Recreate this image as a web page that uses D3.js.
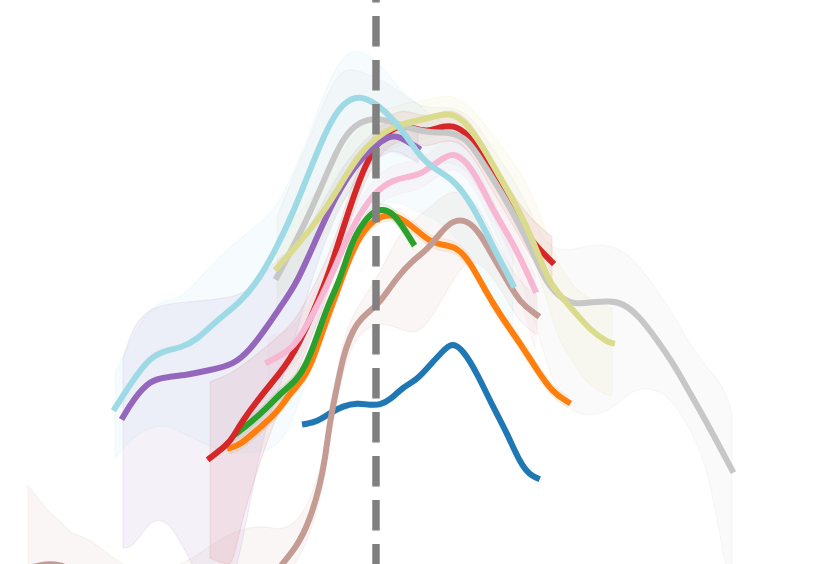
<!DOCTYPE html>
<html><head><meta charset="utf-8">
<script src="https://cdn.jsdelivr.net/npm/d3@7"></script>
<style>html,body{margin:0;padding:0;background:#fff;overflow:hidden}</style>
</head><body><svg id="chart" width="830" height="564"></svg>
<script>
// Each point: [day relative to event, mean value, lower CI offset, upper CI offset]
const seriesA = [[-7.1,14.0,0.3,0.3],[-5.9,14.2,0.3,0.3],[-4.6,15.1,0.3,0.3],[-3.3,15.8,0.3,0.3],[-1.9,16.1,0.3,0.3],[-0.6,15.9,0.3,0.3],[0.4,15.9,0.3,0.3],[1.4,16.4,0.3,0.3],[2.7,17.7,0.3,0.3],[4.1,18.4,0.3,0.3],[5.4,19.9,0.3,0.3],[6.6,21.2,0.3,0.3],[7.6,22.2,0.3,0.3],[8.7,21.4,0.3,0.3],[10.1,19.1,0.3,0.3],[11.7,15.7,0.3,0.3],[13.1,13.1,0.3,0.3],[14.4,10.1,0.3,0.3],[15.4,8.9,0.3,0.3],[16.1,8.6,0.3,0.3]];
const seriesB = [[-14.6,11.6,0.6,0.6],[-13.6,11.9,0.6,0.6],[-11.9,13.4,0.6,0.6],[-9.9,15.1,0.6,0.6],[-8.6,17.1,0.6,0.6],[-7.3,18.4,0.6,0.6],[-6.3,20.4,0.6,0.6],[-5.3,23.4,0.6,0.6],[-4.3,26.1,0.6,0.6],[-3.3,28.9,0.6,0.6],[-1.9,32.4,0.6,0.6],[-0.6,34.1,0.6,0.6],[0.7,34.9,0.6,0.6],[2.1,34.9,0.6,0.6],[3.7,33.7,0.6,0.6],[5.4,32.2,0.6,0.6],[6.7,31.9,0.6,0.6],[8.1,31.7,0.6,0.6],[9.4,30.2,0.6,0.6],[10.9,27.4,0.6,0.6],[12.4,24.9,0.6,0.6],[14.4,22.1,0.6,0.6],[16.1,19.4,0.6,0.6],[17.7,17.1,0.6,0.6],[19.2,16.2,0.6,0.6]];
const seriesC = [[-13.9,13.1,0.6,0.6],[-12.6,14.1,0.6,0.6],[-10.9,15.6,0.6,0.6],[-9.3,17.3,0.6,0.6],[-7.9,18.4,0.6,0.6],[-6.9,20.1,0.6,0.6],[-5.9,22.7,0.6,0.6],[-4.9,25.7,0.6,0.6],[-3.6,28.4,0.6,0.6],[-2.6,31.7,0.6,0.6],[-1.6,33.7,0.6,0.6],[-0.3,35.3,0.6,0.6],[0.7,35.5,0.6,0.6],[1.7,35.1,0.6,0.6],[2.7,33.7,0.6,0.6],[3.7,32.1,0.6,0.6]];
const seriesD = [[-16.6,10.6,10,7.6],[-14.9,11.9,12,7],[-14.3,12.7,12.7,6.5],[-13.3,14.4,9.5,5.5],[-11.6,16.7,6.5,4.5],[-9.6,19.1,3.2,3.8],[-7.9,21.4,2.5,3],[-4.9,28.4,1.8,2],[-3.9,31.7,1.5,1.5],[-2.6,35.7,1.5,1.5],[-1.3,39.4,1.5,1.5],[0.1,42.1,1.5,1.5],[1.4,43.4,1.5,1.5],[2.7,43.9,1.5,1.5],[3.7,43.6,1.5,1.5],[5.1,43.2,1.5,1.5],[6.4,43.7,1.5,1.5],[7.7,43.9,1.5,1.5],[9.1,43.1,1.5,1.5],[10.4,41.1,1.5,1.5],[11.7,38.7,1.5,1.5],[13.1,36.4,1.5,1.5],[14.4,34.1,1.5,1.8],[15.7,32.1,1.8,2.2],[17.6,30.2,2,2.5]];
const seriesE = [[-25.3,14.7,13.1,5.8],[-24.3,16.4,14.8,7.5],[-22.6,18.4,14,7.1],[-20.9,18.7,14.1,7.3],[-18.9,18.9,17.8,7.3],[-16.6,19.4,23,7],[-14.3,19.9,23,6.8],[-12.6,21.4,15,6],[-10.9,23.7,9.3,5.7],[-9.3,26.1,7.7,4.8],[-7.9,28.1,4.7,3.8],[-5.9,32.7,2.5,2.2],[-3.9,37.1,1.8,1.8],[-1.9,40.1,1.5,1.5],[-0.3,41.7,1.5,1.5],[1.4,42.9,1.5,1.5],[2.4,42.7,1.5,1.5],[3.4,42.1,1.5,1.5],[4.2,41.6,1.5,1.5]];
const seriesF = [[-34.8,-0.4,3,8.2],[-33.6,-0.1,3,6.5],[-32.6,0.0,3,5],[-31.6,-0.1,3,4.5],[-30.6,-0.5,3,3.5],[-28.6,-2.1,3,4.8],[-24.6,-4.6,3,3.5],[-19.6,-6.1,3,5.5],[-14.6,-5.1,3,8.5],[-11.1,-2.6,3,6.5],[-9.6,-0.2,2,3.5],[-7.9,1.7,1.5,2.5],[-6.6,4.4,1.5,2],[-5.6,7.9,1.5,1.5],[-5.1,10.4,1.5,1.5],[-4.6,14.4,1.5,1.5],[-3.9,17.7,1.5,1.5],[-3.3,20.7,1.5,1.5],[-2.6,22.7,1.5,1.5],[-1.9,24.1,1.5,1.5],[-0.9,25.1,1.5,2],[0.4,26.1,2,3],[2.1,28.7,5,4],[3.7,30.4,7.5,4],[5.1,31.4,7.5,4],[6.4,33.1,7,3.5],[7.7,34.4,6,3],[9.1,34.4,4,2.5],[10.4,33.1,3,2.5],[11.7,30.7,2,2],[13.1,28.4,2,2],[14.4,26.1,2,2],[16.1,24.9,2,2]];
const seriesG = [[-10.8,20.2,2.5,2.5],[-8.9,21.2,2,2],[-7.6,22.4,2,2],[-4.6,28.4,1.5,1.5],[-3.3,31.7,1.5,1.5],[-1.6,35.1,1.5,1.5],[0.1,37.4,1.5,1.5],[1.7,38.4,1.5,1.5],[3.1,38.7,1.5,1.5],[4.4,38.9,1.5,1.5],[6.4,40.4,1.5,1.5],[7.7,41.2,1.5,1.5],[9.1,40.2,1.5,1.5],[10.4,38.1,1.5,1.5],[11.7,35.4,1.8,1.5],[13.1,33.1,2.5,1.5],[14.4,30.7,4,1.5],[15.9,27.4,6,1.5]];
const seriesH = [[-9.9,28.7,4,6],[-8.3,31.7,4,7],[-6.6,35.1,4,7.5],[-4.9,39.1,3.5,8],[-3.3,42.7,3,7],[-1.6,44.3,3,5],[0.1,44.6,3,4],[1.7,44.2,3,3.5],[3.1,43.7,3,3],[4.1,43.4,3,2.5],[5.7,43.1,3,2.5],[7.4,43.2,3,2.5],[9.1,42.6,3,2.5],[10.7,40.1,3.5,3],[12.4,37.4,4,3],[14.1,34.4,5,3.5],[15.7,31.2,6,3.5],[16.9,28.4,8,3.8],[18.1,26.9,9.5,4.5],[19.7,25.9,11,5.5],[21.7,26.2,11.3,5.8],[23.4,26.3,11,5.5],[24.7,26.1,9.5,5.3],[26.4,24.7,7,5],[28.1,22.4,5,5],[29.7,20.1,3.7,5],[31.4,17.1,3.7,4.8],[33.1,14.1,4,5.5],[34.7,11.1,10,6.8],[35.6,9.4,13,5.8]];
const seriesI = [[-9.9,29.6,3,3],[-8.3,31.4,3,3],[-6.6,33.4,3,3],[-4.9,35.7,2.5,3],[-3.3,38.4,2,3],[-1.6,41.1,2,2.5],[0.1,42.7,2,2.5],[1.7,43.7,2,2],[3.4,44.2,2,2],[5.7,44.7,2,1.8],[7.4,45.2,2,1.8],[9.1,44.1,2,2],[10.7,41.7,2,2.5],[12.4,38.7,2,3.3],[14.1,35.7,2,4],[15.7,32.4,2,4.5],[17.1,28.6,2,4.5],[18.1,27.2,4.5,3],[19.7,25.4,5.3,2.3],[21.4,23.4,5.7,3],[23.1,22.2,5.3,3.5],[23.6,22.1,5.3,3.5]];
const seriesJ = [[-26.1,15.6,5,3.5],[-24.3,18.4,5.7,4.5],[-22.6,20.7,7,5],[-20.9,21.4,7.5,5],[-19.6,21.6,8.4,5],[-17.9,22.4,10,5.8],[-15.9,24.4,13,6.2],[-13.6,26.1,15,6.4],[-11.6,28.6,17.5,5.5],[-9.9,31.7,20,4],[-8.3,35.1,21,4],[-6.6,39.4,20,3.7],[-4.9,43.6,15,4.3],[-3.3,46.2,13.5,4.8],[-1.6,46.9,11.8,4.6],[0.1,46.0,9.8,4.3],[1.7,44.5,8.3,3.8],[3.1,42.7,6.8,4],[4.1,41.2,6,5],[5.1,40.1,5.2,5],[6.4,39.2,5,5.2],[7.7,38.4,5.5,5],[9.1,36.7,5.5,4.7],[10.4,34.4,5,4.7],[11.7,31.7,4.5,4.7],[13.1,29.1,4.2,4],[13.7,27.9,4.2,3.5]];
const eventDays = [0];

const seriesList = [seriesA, seriesB, seriesC, seriesD, seriesE, seriesF, seriesG, seriesH, seriesI, seriesJ];
const seriesColors = ["#1f77b4","#ff7f0e","#2ca02c","#d62728","#9467bd","#c49c94","#f7b6d2","#c7c7c7","#dbdb8d","#9edae5"];

const W = 830, H = 564;
const x = d3.scaleLinear().domain([-37.6, 45.4]).range([0, W]);
const y = d3.scaleLinear().domain([0, 56.4]).range([H, 0]);
const svg = d3.select("#chart");

const area = d3.area()
  .x(d => x(d[0])).y0(d => y(d[1] - d[2])).y1(d => y(d[1] + d[3]))
  .curve(d3.curveBasis);
const line = d3.line().x(d => x(d[0])).y(d => y(d[1])).curve(d3.curveBasis);

svg.append("g").selectAll("path").data(seriesList).join("path")
  .attr("d", area)
  .attr("fill", (d, i) => seriesColors[i]).attr("fill-opacity", 0.09)
  .attr("stroke", (d, i) => seriesColors[i]).attr("stroke-opacity", 0.1).attr("stroke-width", 1.2);

svg.append("g").selectAll("path").data(seriesList).join("path")
  .attr("d", line)
  .attr("fill", "none")
  .attr("stroke", (d, i) => seriesColors[i])
  .attr("stroke-width", 6)
  .attr("stroke-linecap", "square")
  .attr("stroke-linejoin", "round");

svg.append("g").selectAll("line").data(eventDays).join("line")
  .attr("x1", d => x(d)).attr("x2", d => x(d))
  .attr("y1", y(59.2)).attr("y2", y(-4))
  .attr("stroke", "#808080").attr("stroke-width", 7.5)
  .attr("stroke-dasharray", "30.5,13.5");
</script></body></html>
